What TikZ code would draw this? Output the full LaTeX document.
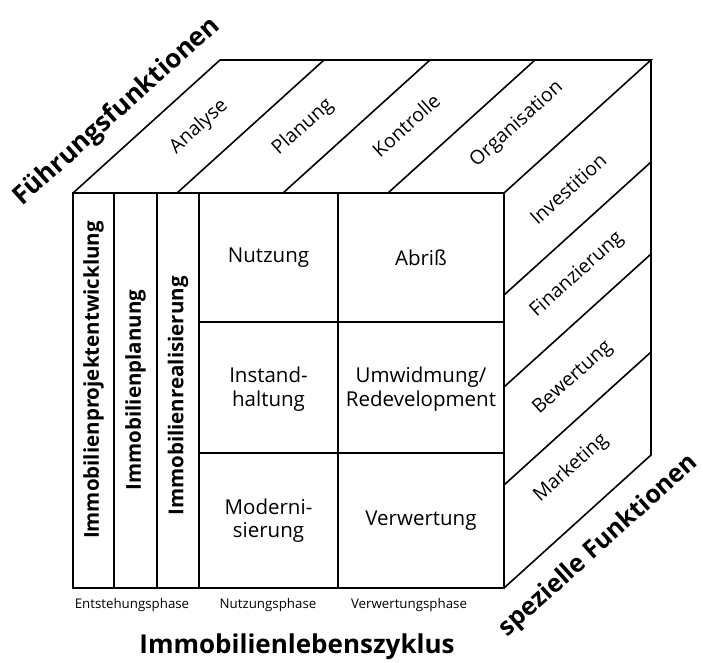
\documentclass[tikz,border=0pt]{standalone}
\usepackage{fontspec}
\setmainfont{Open Sans}
\usepackage{tikz}

\tikzset{
  cubeline/.style={line width=1.6pt, line join=miter},
  cell/.style={align=center, font=\fontsize{20.5}{23.5}\selectfont},
  slanted/.style={rotate=42, font=\fontsize{19.5}{22}\selectfont},
  stage/.style={rotate=90, font=\bfseries\fontsize{20.5}{22}\selectfont},
  phase/.style={font=\fontsize{13.3}{15}\selectfont},
  axis/.style={font=\bfseries\fontsize{26}{30}\selectfont}
}

\begin{document}
\begin{tikzpicture}[x=1pt, y=-1pt]

  \newcommand\XL{73}
  \newcommand\XR{504}
  \newcommand\YT{193}
  \newcommand\YB{588}
  \newcommand\DX{147}
  \newcommand\DY{-133}

  \useasboundingbox (0,0) rectangle (703,662);

  \coordinate (ftl) at (\XL,\YT);
  \coordinate (ftr) at (\XR,\YT);
  \coordinate (fbr) at (\XR,\YB);
  \coordinate (btl) at (\XL+\DX,\YT+\DY);
  \coordinate (btr) at (\XR+\DX,\YT+\DY);
  \coordinate (bbr) at (\XR+\DX,\YB+\DY);

  %% front face
  \draw[cubeline] (\XL,\YT) rectangle (\XR,\YB);
  \foreach \x in {114,157,199,338}
    \draw[cubeline] (\x,\YT) -- (\x,\YB);
  \foreach \y in {322,453}
    \draw[cubeline] (199,\y) -- (\XR,\y);

  %% top face
  \draw[cubeline] (ftl) -- (btl) -- (btr) -- (ftr);
  \foreach \x in {177,283,388}
    \draw[cubeline] (\x,\YT) -- ++(\DX,\DY);

  %% right face
  \draw[cubeline] (btr) -- (bbr) -- (fbr);
  \foreach \y in {295,387,485}
    \draw[cubeline] (\XR,\y) -- ++(\DX,\DY);

  %% stages (left columns)
  \node[stage] (entwicklung)  at (93.5,380) {Immobilienprojektentwicklung};
  \node[stage] (planung)      at (135.5,390) {Immobilienplanung};
  \node[stage] (realisierung) at (178,396) {Immobilienrealisierung};

  %% cells
  \node[cell] (nutzung)   at (268.5,257.5) {Nutzung};
  \node[cell] (instand)   at (268.5,389)   {Instand-\\haltung};
  \node[cell] (modern)    at (268.5,520.5) {Moderni-\\sierung};
  \node[cell] (abriss)    at (421,257.5)   {Abriß};
  \node[cell] (umwidmung) at (421,389)     {Umwidmung/\\Redevelopment};
  \node[cell] (verwert)   at (421,520.5)   {Verwertung};

  %% top face labels
  \node[slanted] (analyse)  at (199,127)   {Analyse};
  \node[slanted] (planen)   at (303,127)   {Planung};
  \node[slanted] (kontroll) at (406,125)   {Kontrolle};
  \node[slanted] (organis)  at (517,124.5) {Organisation};

  %% right face labels
  \node[slanted] (invest)  at (568,189)   {Investition};
  \node[slanted] (finanz)  at (577,275)   {Finanzierung};
  \node[slanted] (bewert)  at (573,378)   {Bewertung};
  \node[slanted] (market)  at (571,468)   {Marketing};

  %% phases
  \node[phase] (entsteh) at (132,605) {Entstehungsphase};
  \node[phase] (nutzph)  at (268,605) {Nutzungsphase};
  \node[phase] (verwph)  at (409,605) {Verwertungsphase};

  %% axis titles
  \node[axis] (zyklus)  at (297,647) {Immobilienlebenszyklus};
  \node[axis, rotate=42] (fuehrung) at (117,112) {Führungsfunktionen};
  \node[axis, rotate=42, font=\bfseries\fontsize{25}{30}\selectfont] (spezial) at (599,546) {spezielle Funktionen};

\end{tikzpicture}
\end{document}
